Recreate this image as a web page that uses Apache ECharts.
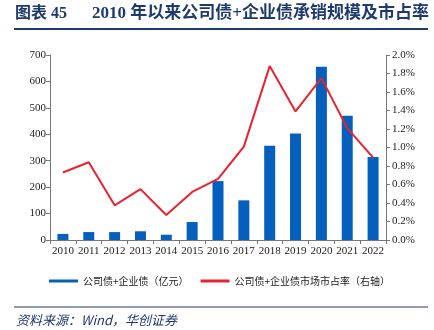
<!DOCTYPE html>
<html>
<head>
<meta charset="utf-8">
<script src="https://cdn.jsdelivr.net/npm/echarts@6/dist/echarts.min.js"></script>
<style>
  html, body { margin: 0; padding: 0; background: #fff; }
  #chart { width: 434px; height: 330px; }
</style>
</head>
<body>
<div id="chart"></div>
<script>
// Underwriting volume of corporate + enterprise bonds and market share
const years = ['2010','2011','2012','2013','2014','2015','2016','2017','2018','2019','2020','2021','2022'];
const volume = [23, 30, 30, 33, 20, 68, 223, 150, 357, 403, 656, 470, 314];           // 亿元
const share = [0.73, 0.84, 0.375, 0.55, 0.27, 0.52, 0.66, 1.01, 1.88, 1.39, 1.75, 1.21, 0.89]; // %
const leftTicks = { min: 0, max: 700, interval: 100 };
const rightTicks = { min: 0, max: 2.0, interval: 0.2 };

const navy = '#1f3a6e';
const barColor = '#0560bd';
const lineColor = '#e8232f';
const serif = '"Liberation Serif", "Times New Roman", serif';

const chart = echarts.init(document.getElementById('chart'), null, { renderer: 'canvas' });
chart.setOption({
  animation: false,
  backgroundColor: '#fff',
  graphic: [
    { type: 'text', left: 15, top: 6,
      style: { text: '图表 45', fill: navy, font: 'bold 16px "Liberation Serif", "Noto Sans CJK SC", serif' } },
    { type: 'text', left: 92, top: 5,
      style: { text: '2010 年以来公司债+企业债承销规模及市占率', fill: navy, font: 'bold 17px "Liberation Serif", "Noto Sans CJK SC", serif' } },
    { type: 'line', shape: { x1: 14, y1: 29, x2: 428, y2: 29 }, style: { stroke: navy, lineWidth: 2 } },
    { type: 'line', shape: { x1: 14, y1: 307, x2: 428, y2: 307 }, style: { stroke: navy, lineWidth: 1.2 } },
    { type: 'text', left: 16, top: 314,
      style: { text: '资料来源：Wind，华创证券', fill: navy, font: 'italic 13px "Noto Sans CJK SC", serif' } }
  ],
  legend: {
    top: 271, left: 44,
    itemGap: 12,
    textStyle: { fontSize: 10, color: '#222', fontFamily: '"Noto Sans CJK SC", sans-serif' },
    data: [
      { name: '公司债+企业债（亿元）', icon: 'rect', itemStyle: { color: barColor } },
      { name: '公司债+企业债市场市占率（右轴）', icon: 'rect', itemStyle: { color: lineColor } }
    ],
    itemWidth: 29, itemHeight: 3
  },
  grid: { left: 50, right: 48, top: 55, bottom: 90, containLabel: false },
  xAxis: {
    type: 'category',
    data: years,
    axisLine: { lineStyle: { color: '#777', width: 1 } },
    axisTick: { show: true, alignWithLabel: false, lineStyle: { color: '#777' }, length: 4 },
    axisLabel: { color: '#222', fontFamily: serif, fontSize: 11, margin: 6, interval: 0 }
  },
  yAxis: [
    {
      type: 'value', ...leftTicks,
      axisLine: { show: true, lineStyle: { color: '#777' } },
      axisTick: { show: true, length: 4, lineStyle: { color: '#777' } },
      splitLine: { show: false },
      axisLabel: { color: '#222', fontFamily: serif, fontSize: 11, margin: 4 }
    },
    {
      type: 'value', ...rightTicks,
      axisLine: { show: true, lineStyle: { color: '#777' } },
      axisTick: { show: true, length: 4, lineStyle: { color: '#777' } },
      splitLine: { show: false },
      axisLabel: { color: '#222', fontFamily: serif, fontSize: 11, margin: 6,
        formatter: v => v.toFixed(1) + '%' }
    }
  ],
  series: [
    {
      name: '公司债+企业债（亿元）', type: 'bar', data: volume,
      barWidth: 11, itemStyle: { color: barColor }
    },
    {
      name: '公司债+企业债市场市占率（右轴）', type: 'line', yAxisIndex: 1, data: share,
      symbol: 'none', lineStyle: { color: lineColor, width: 2 }, itemStyle: { color: lineColor }
    }
  ]
});
</script>
</body>
</html>
